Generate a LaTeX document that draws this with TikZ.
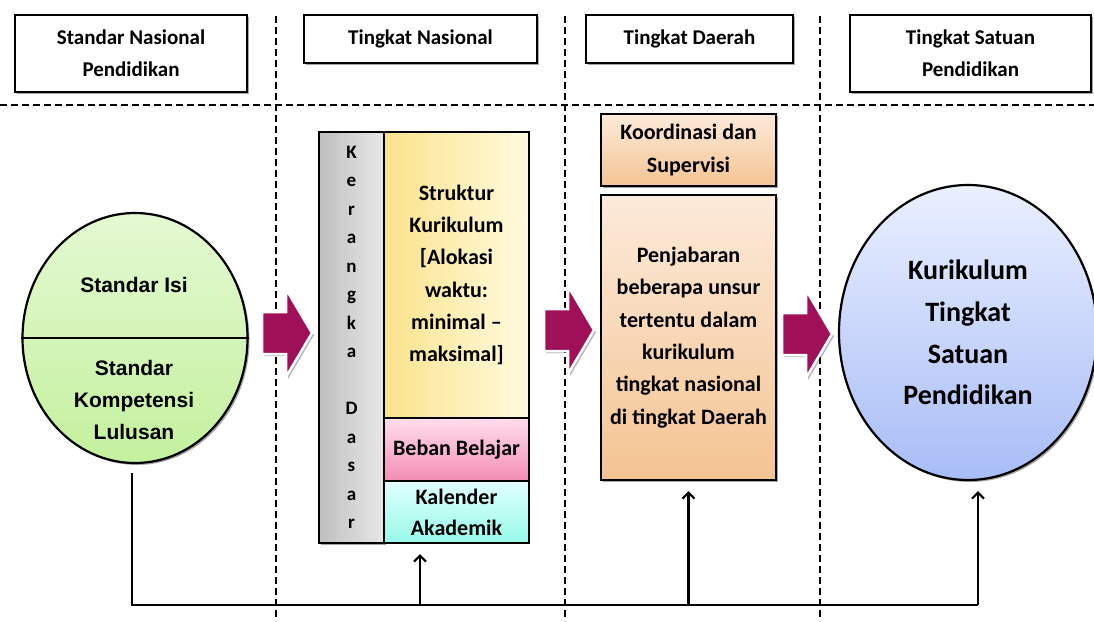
\documentclass[tikz,border=0pt]{standalone}
\usepackage{fontspec}
\setmainfont{Carlito}
\newfontfamily\arialfont{Liberation Sans}
\usetikzlibrary{shapes.geometric,arrows.meta,shadows}
\definecolor{arrowc}{RGB}{160,16,88}
\definecolor{greentop}{RGB}{228,249,210}
\definecolor{greenbot}{RGB}{196,240,158}
\definecolor{bluetop}{RGB}{234,240,255}
\definecolor{bluebot}{RGB}{168,188,246}
\definecolor{greyl}{RGB}{190,190,190}
\definecolor{greyr}{RGB}{232,232,232}
\definecolor{yell}{RGB}{250,226,140}
\definecolor{yelr}{RGB}{255,251,224}
\definecolor{pinkt}{RGB}{255,222,236}
\definecolor{pinkb}{RGB}{244,140,180}
\definecolor{cyant}{RGB}{226,255,255}
\definecolor{cyanb}{RGB}{150,250,232}
\definecolor{orat}{RGB}{252,234,218}
\definecolor{orab}{RGB}{244,196,146}
\begin{document}
\begin{tikzpicture}[x=1pt,y=-1pt,
  shad/.style={drop shadow={shadow xshift=2pt,shadow yshift=-2pt,opacity=0.35,fill=black}},
  hdr/.style={draw=black,line width=2.2pt,fill=white,inner sep=0pt,align=center,
    font=\bfseries\fontsize{21}{32}\selectfont,shad},
  dline/.style={line width=1.6pt,dash pattern=on 7pt off 4pt},
  hline/.style={line width=2.2pt,dash pattern=on 7pt off 4pt},
  cbox/.style={draw=black,line width=2.2pt,inner sep=0pt,align=center,
    font=\bfseries\fontsize{22}{32.3}\selectfont},
  conn/.style={line width=2.2pt},
  arr/.style={conn,-{Straight Barb[length=6pt,width=12pt]}},
  bigarrow/.pic={
    \fill[black,opacity=0.3] (-23,-19) -- (1,-19) -- (1,-42) -- (27,2) -- (1,46) -- (1,23) -- (-23,23) -- cycle;
    \filldraw[fill=arrowc,draw=white,line width=2.5pt,line join=miter]
      (-25,-21) -- (-1,-21) -- (-1,-44) -- (25,0) -- (-1,44) -- (-1,21) -- (-25,21) -- cycle;
  }]
\useasboundingbox (0,0) rectangle (1094,621);
\fill[white] (0,0) rectangle (1094,621);

% dashed separators
\draw[hline] (0,105) -- (1094,105);
\draw[dline] (276,16) -- (276,621);
\draw[dline] (565,16) -- (565,621);
\draw[dline] (820,16) -- (820,621);

% headers
\node[hdr,minimum width=232pt,minimum height=77pt] (h1) at (131,53.5) {Standar Nasional\\Pendidikan};
\node[hdr,minimum width=233pt,minimum height=48pt] (h2) at (420.5,39) {Tingkat Nasional};
\node[hdr,minimum width=207pt,minimum height=48pt] (h3) at (689.5,39) {Tingkat Daerah};
\node[hdr,minimum width=241pt,minimum height=77pt] (h4) at (970.5,53.5) {Tingkat Satuan\\Pendidikan};

% left ellipse
\node[ellipse,draw=black,line width=2.2pt,top color=greentop,bottom color=greenbot,
  minimum width=225pt,minimum height=250pt,inner sep=0pt,shad] (sn) at (135,338) {};
\draw[line width=2.2pt] (sn.west) -- (sn.east);
\node[font=\arialfont\bfseries\fontsize{21}{32}\selectfont,align=center] (si) at (134,285) {Standar Isi};
\node[font=\arialfont\bfseries\fontsize{21}{32}\selectfont,align=center] (skl) at (134,400) {Standar\\Kompetensi\\Lulusan};

% national column
\node[cbox,left color=greyl,right color=greyr,minimum width=65pt,minimum height=411pt,
  font=\bfseries\fontsize{19}{28.5}\selectfont,shad] (kd) at (351.5,337.5)
  {K\\e\\r\\a\\n\\g\\k\\a\\\mbox{}\\D\\a\\s\\a\\r};
\node[cbox,left color=yell,right color=yelr,minimum width=145pt,minimum height=286pt] (sk) at (456.5,275)
  {Struktur\\Kurikulum\\{[}Alokasi\\waktu:\\minimal --\\maksimal{]}};
\node[cbox,top color=pinkt,bottom color=pinkb,minimum width=145pt,minimum height=63pt] (bb) at (456.5,449.5)
  {Beban Belajar};
\node[cbox,top color=cyant,bottom color=cyanb,minimum width=145pt,minimum height=62pt,
  font=\bfseries\fontsize{22}{31}\selectfont] (ka) at (456.5,512)
  {Kalender\\Akademik};

% regional column
\node[cbox,top color=orat,bottom color=orab,minimum width=175pt,minimum height=72pt,shad] (ks) at (688.5,150)
  {Koordinasi dan\\Supervisi};
\node[cbox,top color=orat,bottom color=orab,minimum width=175pt,minimum height=285pt,shad] (pj) at (688.5,337.5)
  {Penjabaran\\beberapa unsur\\tertentu dalam\\kurikulum\\tingkat nasional\\di tingkat Daerah};

% right ellipse
\node[ellipse,draw=black,line width=2.2pt,top color=bluetop,bottom color=bluebot,
  minimum width=258pt,minimum height=295pt,inner sep=0pt,align=center,
  font=\bfseries\fontsize{28}{41.7}\selectfont,shad] (kt) at (968,332.5)
  {Kurikulum\\Tingkat\\Satuan\\Pendidikan};

% block arrows
\pic (a1) at (287,333) {bigarrow};
\pic (a2) at (569,330) {bigarrow};
\pic (a3) at (807,334) {bigarrow};

% connectors
\coordinate (bl) at (132,605);
\coordinate (br) at (978,605);
\coordinate (k1) at (420,605);
\coordinate (k2) at (688.5,605);
\draw[conn] ([yshift=-9pt]sn.south -| bl) -- (bl) -- (br);
\draw[arr] (k1) -- ([yshift=-10pt]ka.south -| k1);
\draw[arr] (k2) -- ([yshift=-10pt]pj.south);
\draw[arr] (br) -- ([yshift=-10pt]kt.south -| br);
\end{tikzpicture}
\end{document}
